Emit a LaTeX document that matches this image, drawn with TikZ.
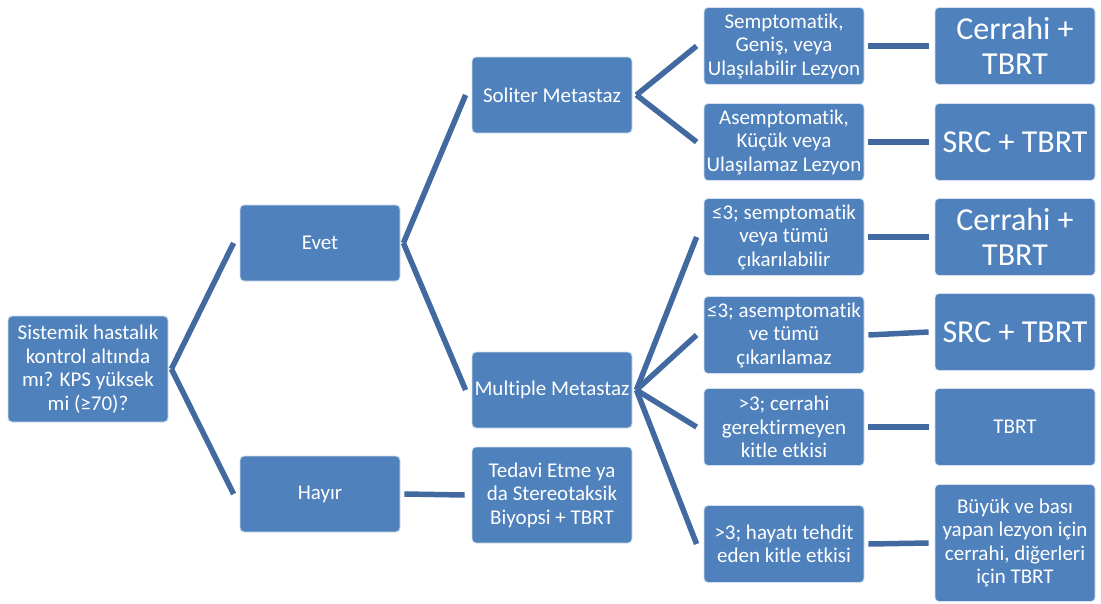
\documentclass[tikz,border=0pt]{standalone}
\usepackage{fontspec}
\setmainfont{Carlito}[Ligatures=NoCommon]
\usetikzlibrary{positioning}
\definecolor{office}{RGB}{79,129,189}
\definecolor{officeline}{RGB}{66,106,160}
\newcommand{\normfont}{\fontsize{21}{23.5}\selectfont}
\newcommand{\bigfont}{\fontsize{32}{35}\selectfont}
\tikzset{
  box/.style={draw=white!75!office,fill=office,text=white,rounded corners=4pt,
    line width=0.8pt,minimum width=160pt,minimum height=#1,inner sep=1pt,
    align=center,font=\normfont},
  box/.default=77pt,
  link/.style={draw=officeline,line width=5.5pt},
}

\begin{document}
\begin{tikzpicture}[x=1pt,y=-1pt]
  \useasboundingbox (0,0) rectangle (1101,603);
  % left part of the tree
  \node[box=106pt] (root) at (88,369) {Sistemik hastalık\\kontrol altında\\mı? KPS yüksek\\mi (≥70)?};
  \node[box=76pt] (evet) at (320,243) {Evet};
  \node[box=76pt] (hayir) at (320,494) {Hayır};
  \node[box=76pt] (soliter) at (552,95) {Soliter Metastaz};
  \node[box=76pt] (multiple) at (552,390) {Multiple Metastaz};
  \node[box=96pt] (tedavi) at (552,495) {Tedavi Etme ya\\da Stereotaksik\\Biyopsi + TBRT};

  \draw[link] ([xshift=3pt]root.east) -- ([xshift=-6pt]evet.west);
  \draw[link] ([xshift=3pt]root.east) -- ([xshift=-6pt]hayir.west);
  \draw[link] ([xshift=3pt]evet.east) -- ([xshift=-6pt]soliter.west);
  \draw[link] ([xshift=3pt]evet.east) -- ([xshift=-6pt]multiple.west);
  \draw[link] ([xshift=4pt]hayir.east) -- ([xshift=-7pt]tedavi.west);

  % right part: conditions and treatments
  \foreach \n/\y/\t/\z/\r/\f/\h in {
    1/46/{Semptomatik,\\Geniş, veya\\Ulaşılabilir Lezyon}/46/{Cerrahi +\\TBRT}/\bigfont/77,
    2/142/{Asemptomatik,\\Küçük veya\\Ulaşılamaz Lezyon}/142/{SRC + TBRT}/\bigfont/77,
    3/237/{≤3; semptomatik\\veya tümü\\çıkarılabilir}/237/{Cerrahi +\\TBRT}/\bigfont/77,
    4/335/{≤3; asemptomatik\\ve tümü\\çıkarılamaz}/332/{SRC + TBRT}/\bigfont/77,
    5/427/{>3; cerrahi\\gerektirmeyen\\kitle etkisi}/427/{TBRT}/\normfont/77,
    6/544/{>3; hayatı tehdit\\eden kitle etkisi}/543/{Büyük ve bası\\yapan lezyon için\\cerrahi, diğerleri\\için TBRT}/\normfont/117}
  {
    \node[box] (cond\n) at (784,\y) {\t};
    \node[box=\h pt,font=\f] (treat\n) at (1015,\z) {\r};
    \draw[link] ([xshift=4pt]cond\n.east) -- ([xshift=-6pt]treat\n.west);
  }
  \foreach \n in {1,2}
    \draw[link] ([xshift=4pt]soliter.east) -- ([xshift=-7pt]cond\n.west);
  \foreach \n in {3,...,6}
    \draw[link] ([xshift=4pt]multiple.east) -- ([xshift=-7pt]cond\n.west);
\end{tikzpicture}
\end{document}
